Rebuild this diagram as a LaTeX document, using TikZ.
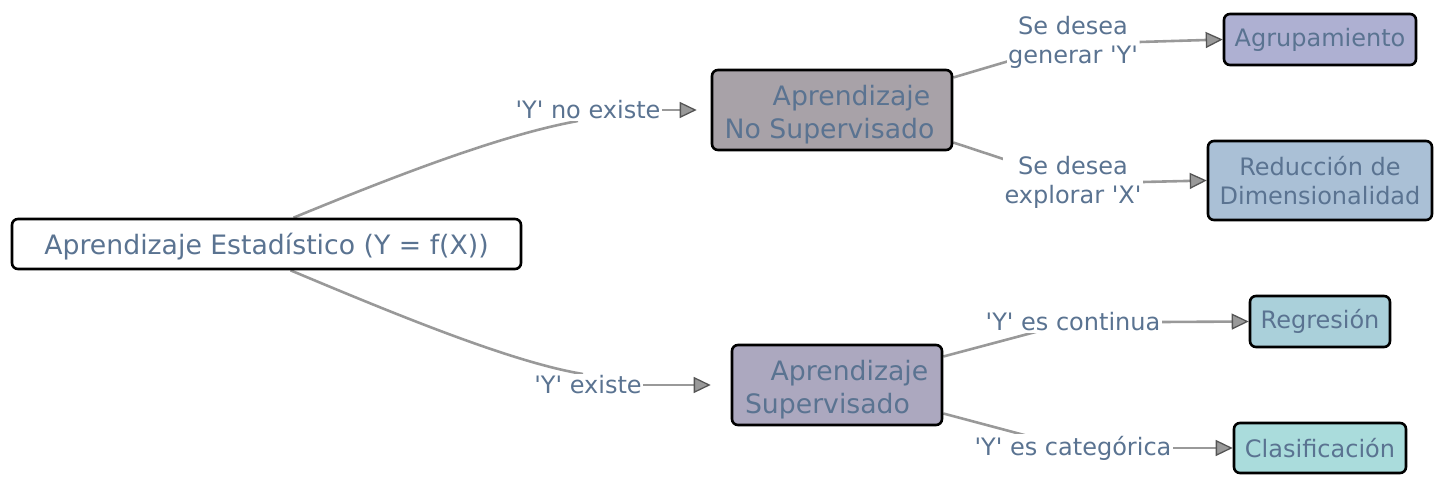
\documentclass[tikz,border=0pt]{standalone}
\usepackage{fontspec}
\newfontfamily\dv{DejaVu Sans}
\usetikzlibrary{arrows.meta}
\pgfdeclarelayer{background}
\pgfsetlayers{background,main}
\definecolor{txt}{HTML}{5A7391}
\definecolor{edgegray}{HTML}{999999}
\definecolor{tipdark}{HTML}{555555}
\definecolor{cNoSup}{HTML}{A8A2A8}
\definecolor{cSup}{HTML}{ACA8BF}
\definecolor{cAgr}{HTML}{AEB0D2}
\definecolor{cRed}{HTML}{AAC0D6}
\definecolor{cReg}{HTML}{AAD0DA}
\definecolor{cCla}{HTML}{AADCDC}
\tikzset{
  mainbox/.style={draw=black, line width=2.6pt, rounded corners=6pt, inner sep=0pt,
    text=txt, align=center, font=\dv\fontsize{26.7}{33}\selectfont},
  leafbox/.style={draw=black, line width=2.6pt, rounded corners=6pt, inner sep=0pt,
    text=txt, align=center, font=\dv\fontsize{24}{29}\selectfont},
  elabel/.style={fill=white, inner sep=1.5pt, text=txt, align=center,
    font=\dv\fontsize{24}{29}\selectfont},
  edge/.style={draw=edgegray, line width=2.6pt},
  tipped/.style={-{Triangle[length=17pt,width=16pt,fill=edgegray,color=tipdark,line width=1.3pt]}},
}
\begin{document}
\begin{tikzpicture}[x=1pt,y=-1pt]
\useasboundingbox (0,0) rectangle (1444,486);
% main nodes
\node[mainbox, fill=white, minimum width=509pt, minimum height=50pt] (root) at (266.5,244) {\rule{0pt}{27pt}Aprendizaje Estadístico (Y = f(X))};
\node[mainbox, fill=cNoSup, minimum width=240pt, minimum height=80pt] (nosup) at (832,110)
  {\rule{0pt}{30pt}\hspace*{39pt}Aprendizaje\\No Supervisado\hspace*{5pt}};
\node[mainbox, fill=cSup, minimum width=210pt, minimum height=80pt] (sup) at (837,385)
  {\rule{0pt}{29pt}\hspace*{25pt}Aprendizaje\\Supervisado\hspace*{19pt}};
% leaves
\node[leafbox, fill=cAgr, minimum width=192pt, minimum height=51pt] (agr) at (1320,39.5) {Agrupamiento};
\node[leafbox, fill=cRed, minimum width=224pt, minimum height=79pt] (red) at (1320,180.5) {Reducción de\\Dimensionalidad};
\node[leafbox, fill=cReg, minimum width=140pt, minimum height=51pt] (reg) at (1320,321.5) {Regresión};
\node[leafbox, fill=cCla, minimum width=172pt, minimum height=50pt] (cla) at (1320,448) {Clasificación};
% labels
\node[elabel] (l1) at (588,110) {'Y' no existe};
\node[elabel] (l2) at (588,385) {'Y' existe};
\node[elabel] (l3) at (1073,42) {Se desea\\generar 'Y'};
\node[elabel] (l4) at (1073,182) {Se desea\\explorar 'X'};
\node[elabel] (l5) at (1073,322) {'Y' es continua};
\node[elabel] (l6) at (1073,448) {'Y' es categórica};
% edges
\begin{pgfonlayer}{background}
\draw[edge] ([xshift=27pt]root.north) .. controls (390,178) and (500,135) .. ([xshift=-10pt]l1.south);
\draw[edge,tipped,shorten >=14pt] (l1.east) -- (nosup.west);
\draw[edge] ([xshift=24pt]root.south) .. controls (390,312) and (510,362) .. ([xshift=-5pt]l2.north);
\draw[edge,tipped,shorten >=20pt] (l2.east) -- (sup.west);
\draw[edge] (nosup.15) -- (l3.center);
\draw[edge,tipped] (l3.east) -- (agr.west);
\draw[edge] (nosup.-15) -- (l4.center);
\draw[edge,tipped] (l4.east) -- (red.west);
\draw[edge] (sup.15) -- (l5.center);
\draw[edge,tipped] (l5.east) -- (reg.west);
\draw[edge] (sup.-15) -- (l6.center);
\draw[edge,tipped] (l6.east) -- (cla.west);
\end{pgfonlayer}
\end{tikzpicture}
\end{document}
